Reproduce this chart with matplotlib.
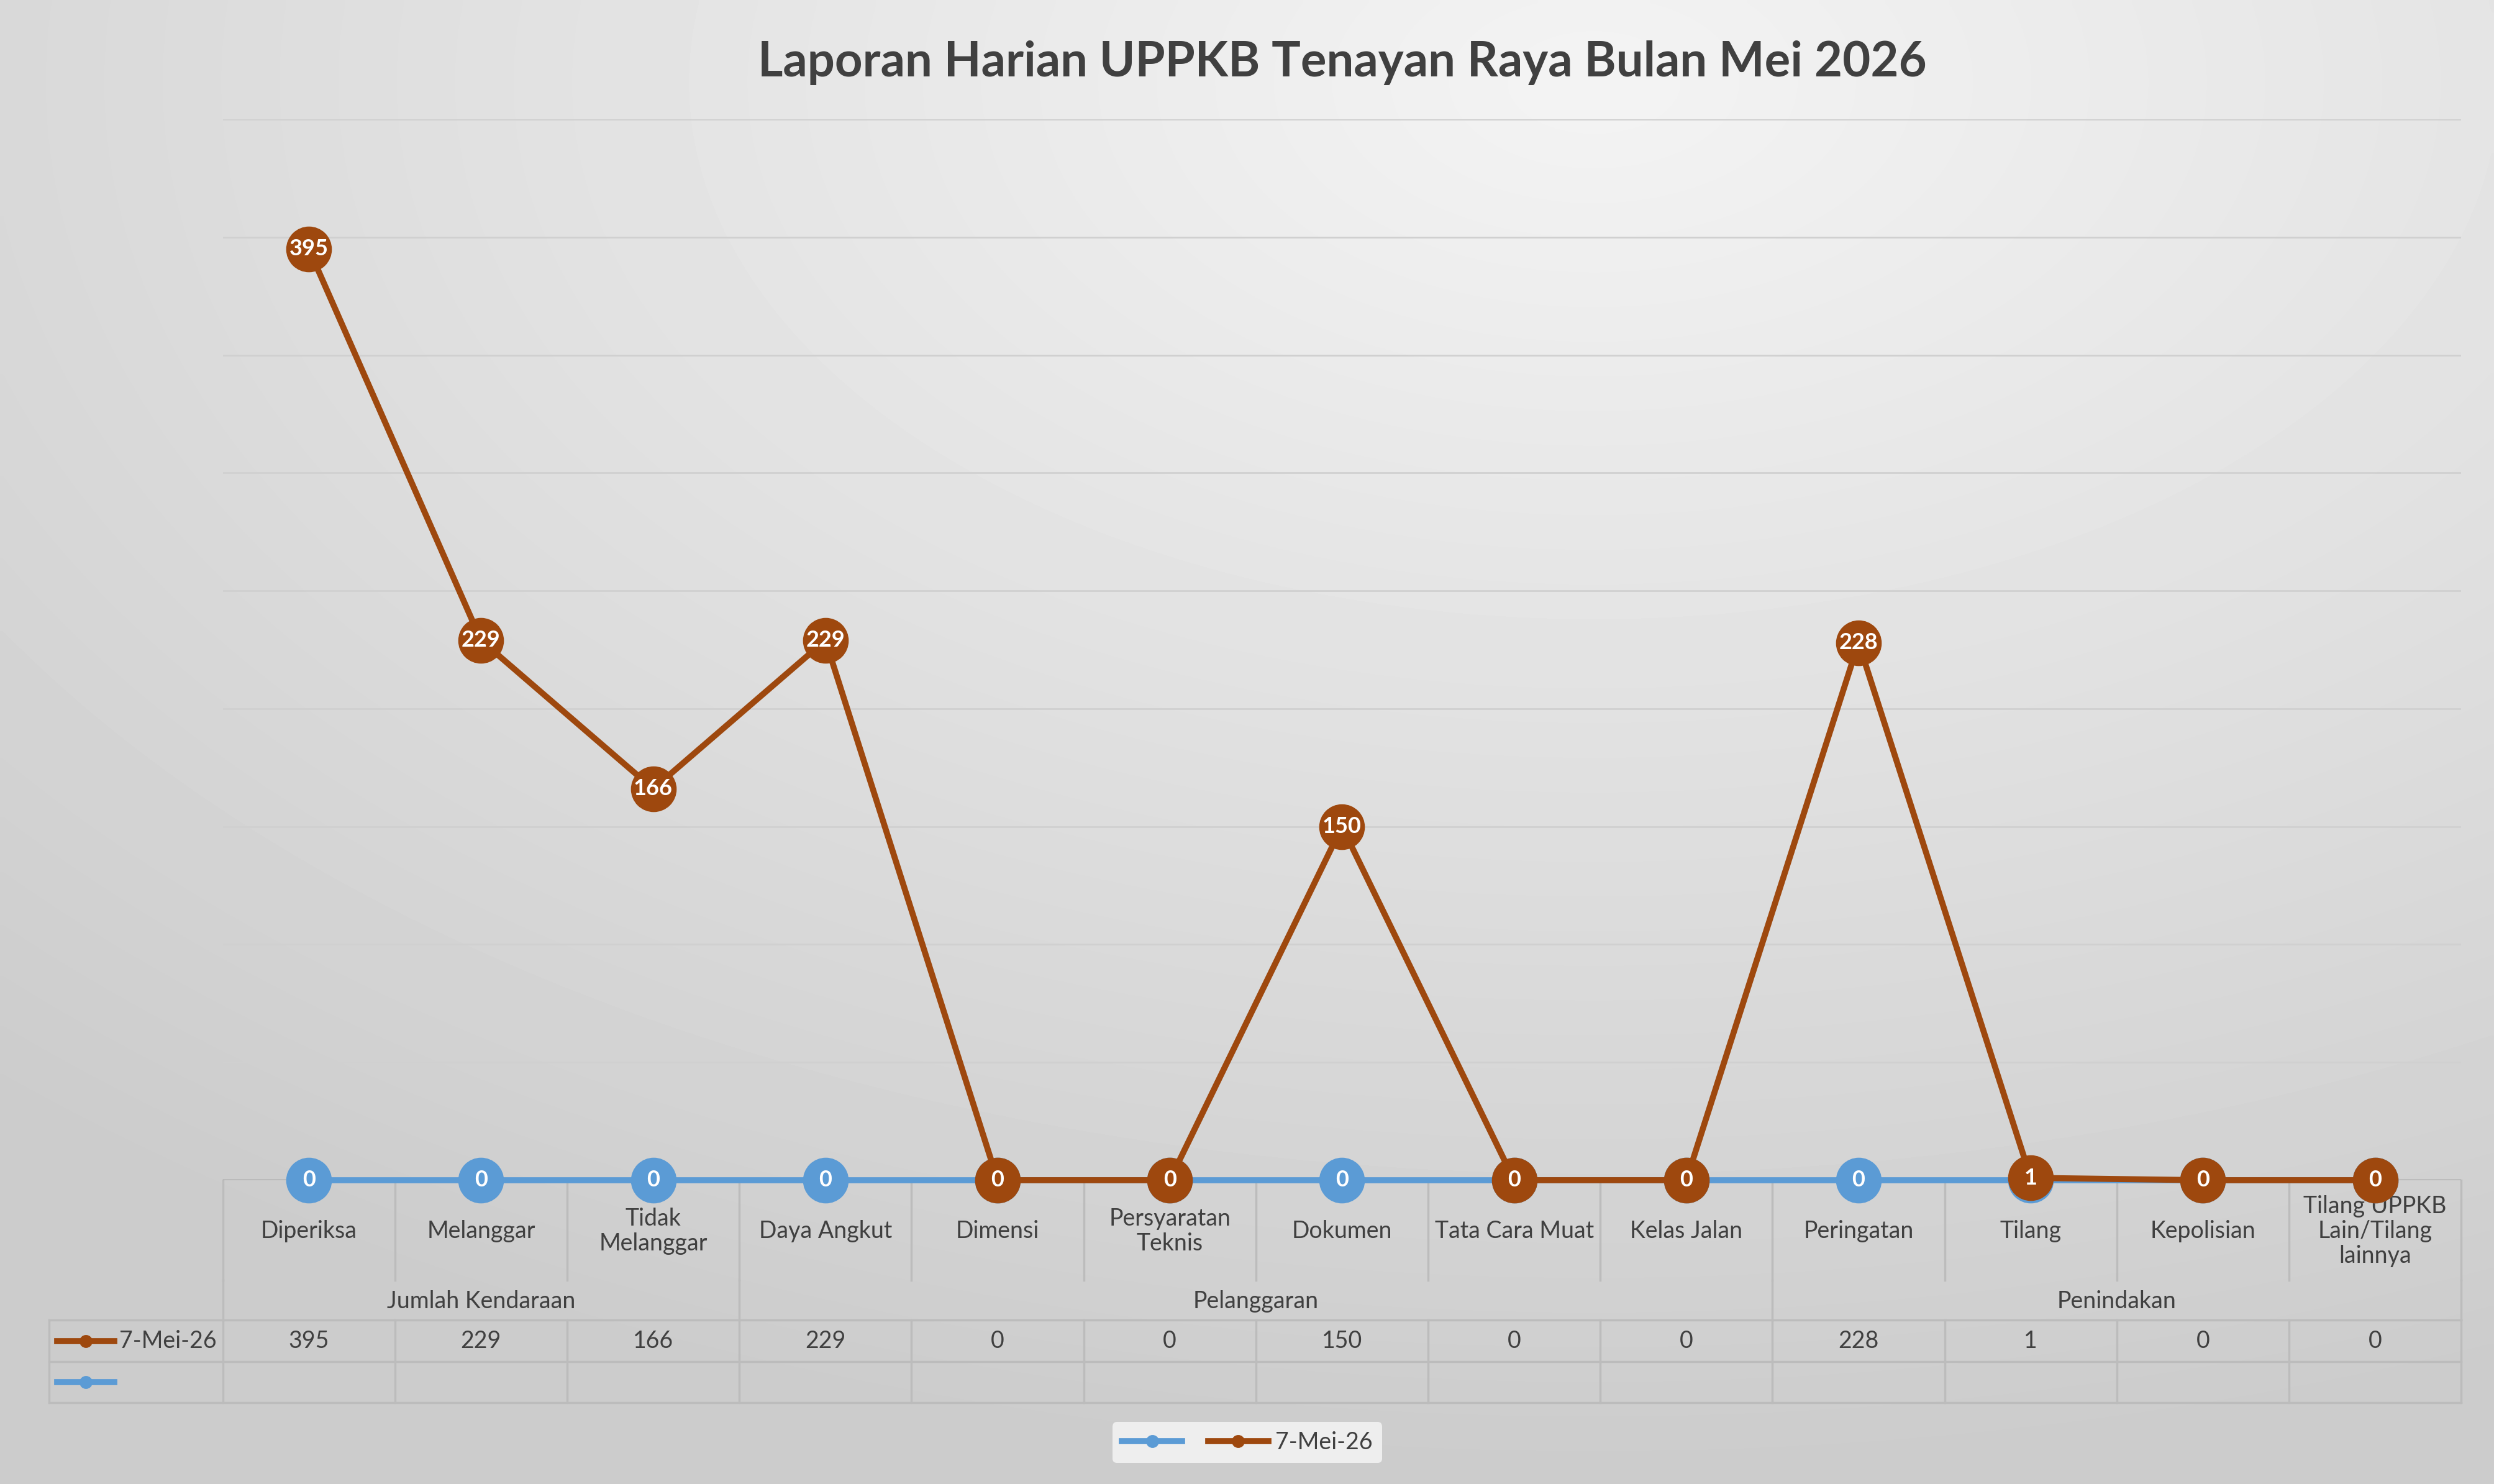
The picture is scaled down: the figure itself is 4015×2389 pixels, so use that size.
import matplotlib

matplotlib.use("Agg")
import matplotlib.pyplot as plt
import numpy as np
from matplotlib.lines import Line2D

plt.rcParams["font.family"] = ["Lato", "DejaVu Sans"]

# data
categories = ["Diperiksa", "Melanggar", "Tidak\nMelanggar", "Daya Angkut", "Dimensi",
              "Persyaratan\nTeknis", "Dokumen", "Tata Cara Muat", "Kelas Jalan",
              "Peringatan", "Tilang", "Kepolisian", "Tilang UPPKB\nLain/Tilang\nlainnya"]
groups = ["Jumlah Kendaraan", "Pelanggaran", "Penindakan"]
group_sizes = [3, 6, 4]
series_name = "7-Mei-26"
values_mei = [395, 229, 166, 229, 0, 0, 150, 0, 0, 228, 1, 0, 0]
values_blank = [0] * 13

BROWN = "#9e480e"
BLUE = "#5b9bd5"
TXT = "#404040"
GRID = "#d0d0d0"
TBL = "#bcbcbc"

W, H = 1568, 933  # layout units (reference display pixels)
fig = plt.figure(figsize=(40.16, 23.89), dpi=100)

# background gradient
bg = fig.add_axes([0, 0, 1, 1], zorder=0)
yy, xx = np.mgrid[0:H:4, 0:W:4]
d = np.sqrt(((xx - 1000) / (1.2 * W)) ** 2 + ((yy - 50) / (1.2 * H)) ** 2)
shade = np.clip(0.955 - 0.2 * d, 0.80, 0.955)
bg.imshow(shade, cmap="gray", vmin=0, vmax=1, extent=[0, W, H, 0], aspect="auto",
          interpolation="bilinear")
bg.set_xlim(0, W)
bg.set_ylim(H, 0)
bg.axis("off")

x0, x1, ytop, ybot = 140, 1547, 75, 742
ax = fig.add_axes([x0 / W, 1 - ybot / H, (x1 - x0) / W, (ybot - ytop) / H], zorder=2)
ax.patch.set_alpha(0)
n = len(categories)
xs = np.arange(n)
ax.set_xlim(-0.5, n - 0.5)
ax.set_ylim(0, 450)
ax.set_yticks(np.arange(0, 451, 50))
ax.yaxis.grid(True, color=GRID, lw=2)
ax.set_axisbelow(True)
ax.tick_params(left=False, bottom=False, labelleft=False, labelbottom=False)
for s in ax.spines.values():
    s.set_visible(False)
ax.axhline(0, color="#a6a6a6", lw=2.5, zorder=1)

ms = 52
ax.plot(xs, values_blank, color=BLUE, lw=7, marker="o", ms=ms, clip_on=False, zorder=3)
for x, v in zip(xs, values_blank):
    ax.text(x, v, str(v), color="white", fontsize=26, fontweight="bold",
            ha="center", va="center", zorder=4)
ax.plot(xs, values_mei, color=BROWN, lw=7, marker="o", ms=ms, clip_on=False, zorder=5)
for x, v in zip(xs, values_mei):
    ax.text(x, v, str(v), color="white", fontsize=26, fontweight="bold",
            ha="center", va="center", zorder=6)

ax.set_title("Laporan Harian UPPKB Tenayan Raya Bulan Mei 2026", fontsize=56,
             fontweight="bold", color=TXT, pad=50)

# data table
cw = (x1 - x0) / n
r0, r1, r2, r3, r4 = 742, 805, 830, 856, 882
lw = 2.5
for i in range(n + 1):
    xl = x0 + i * cw
    bg.plot([xl, xl], [r0, r1], color=TBL, lw=lw)
    bg.plot([xl, xl], [r2, r4], color=TBL, lw=lw)
edge = 0
for g in group_sizes:
    xl = x0 + edge * cw
    bg.plot([xl, xl], [r1, r2], color=TBL, lw=lw)
    edge += g
bg.plot([x1, x1], [r1, r2], color=TBL, lw=lw)
bg.plot([31, 31], [r2, r4], color=TBL, lw=lw)
for yr in (r2, r3, r4):
    bg.plot([31, x1], [yr, yr], color=TBL, lw=lw)

for i, c in enumerate(categories):
    bg.text(x0 + (i + 0.5) * cw, 774, c, ha="center", va="center", fontsize=27,
            color=TXT, linespacing=1.15)
start = 0
for g, sz in zip(groups, group_sizes):
    bg.text(x0 + (start + sz / 2) * cw, 818, g, ha="center", va="center",
            fontsize=27, color=TXT)
    start += sz
for i, v in enumerate(values_mei):
    bg.text(x0 + (i + 0.5) * cw, 843, str(v), ha="center", va="center",
            fontsize=27, color=TXT)

bg.plot([36, 72], [843, 843], color=BROWN, lw=7)
bg.plot([54], [843], "o", color=BROWN, ms=14)
bg.text(75, 843, series_name, ha="left", va="center", fontsize=27, color=TXT)
bg.plot([36, 72], [869, 869], color=BLUE, lw=7)
bg.plot([54], [869], "o", color=BLUE, ms=14)

handles = [Line2D([], [], color=BLUE, lw=7, marker="o", ms=14),
           Line2D([], [], color=BROWN, lw=7, marker="o", ms=14)]
leg = fig.legend(handles, ["", series_name], loc="center", bbox_to_anchor=(0.5, 1 - 907 / H),
                 ncol=2, fontsize=27, frameon=True, handlelength=2.6, columnspacing=0.8,
                 handletextpad=0.3, labelcolor=TXT)
leg.get_frame().set_facecolor("#f2f2f2")
leg.get_frame().set_edgecolor("none")
leg.get_frame().set_alpha(0.9)

fig.savefig("out.png", dpi=100)
